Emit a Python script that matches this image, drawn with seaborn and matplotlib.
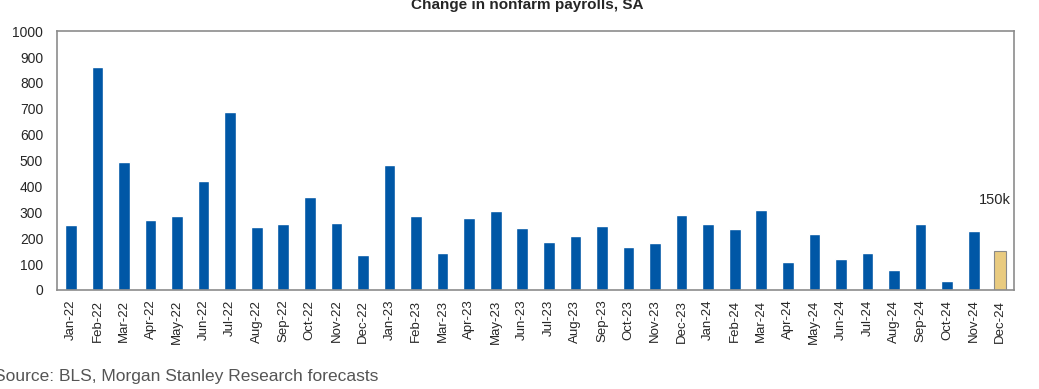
import numpy as np
import pandas as pd
import matplotlib
matplotlib.use("Agg")
import matplotlib.pyplot as plt
import seaborn as sns

# Дані: зміна кількості робочих місць (тис.), помісячно
months = ["Jan-22", "Feb-22", "Mar-22", "Apr-22", "May-22", "Jun-22", "Jul-22", "Aug-22",
          "Sep-22", "Oct-22", "Nov-22", "Dec-22", "Jan-23", "Feb-23", "Mar-23", "Apr-23",
          "May-23", "Jun-23", "Jul-23", "Aug-23", "Sep-23", "Oct-23", "Nov-23", "Dec-23",
          "Jan-24", "Feb-24", "Mar-24", "Apr-24", "May-24", "Jun-24", "Jul-24", "Aug-24",
          "Sep-24", "Oct-24", "Nov-24", "Dec-24"]
payrolls = [251, 862, 493, 272, 286, 421, 689, 242,
            255, 360, 257, 135, 483, 287, 144, 278,
            304, 239, 184, 210, 246, 165, 181, 290,
            256, 236, 310, 107, 215, 118, 143, 77,
            255, 35, 228, 150]
forecast = [False] * 35 + [True]

df = pd.DataFrame({"Month": months, "Payrolls": payrolls, "Forecast": forecast})

sns.set_style("white")
plt.rcParams['font.family'] = ['Liberation Sans Narrow', 'Liberation Sans', 'DejaVu Sans']

fig = plt.figure(figsize=(10.39, 3.89), dpi=100)
ax = fig.add_axes([0.0549, 0.2545, 0.9211, 0.6655])

blue = "#0057A6"
gold = "#E9CB80"
colors = [gold if f else blue for f in df["Forecast"]]

sns.barplot(data=df, x="Month", y="Payrolls", hue="Month", palette=colors,
            legend=False, width=0.44, ax=ax, saturation=1)
# рамка для прогнозного стовпця
ax.patches[-1].set_edgecolor("#8a8a8a")
ax.patches[-1].set_linewidth(0.8)

ax.set_ylim(0, 1000)
ax.set_xlim(-0.52, len(months) - 0.48)
ax.set_yticks(range(0, 1001, 100))
ax.tick_params(axis="y", labelsize=10, length=0, pad=10)
ax.tick_params(axis="x", labelsize=9.5, length=0, rotation=90, pad=7)
ax.set_xlabel("")
ax.set_ylabel("")
for s in ax.spines.values():
    s.set_color("#8c8c8c")
    s.set_linewidth(1.2)

ax.text(len(months) - 1.2, 332, "150k", ha="center", va="baseline", fontsize=10.5)

fig.text(0.507, 1 - 9 / 389, "Change in nonfarm payrolls, SA", ha="center", va="baseline",
         fontsize=11, fontweight="bold")
fig.text(-0.006, 0.033, "Source: BLS, Morgan Stanley Research forecasts", ha="left",
         va="center", fontsize=12.5, color="#555555", family=["Liberation Sans", "DejaVu Sans"])

fig.savefig("out.png", dpi=100)
